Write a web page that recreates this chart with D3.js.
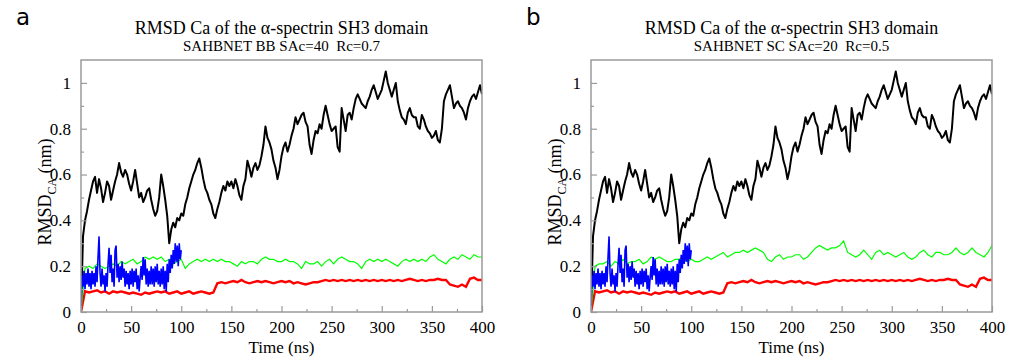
<!DOCTYPE html>
<html>
<head>
<meta charset="utf-8">
<script src="https://cdn.jsdelivr.net/npm/d3@7"></script>
<style>
  body { margin: 0; background: #fff; }
</style>
</head>
<body>
<div id="plot"></div>
<script>
// sampling step (ns) of each trace
const blackStep = 2;
const redStep = 4;
const greenStep = 4;
const blueStep = 1;

// black trace, 0..400 ns (same in both panels)
const blackRmsd = [
  0.00, 0.33, 0.40, 0.44, 0.49, 0.53, 0.57, 0.59, 0.52, 0.58,   // 0-18
  0.54, 0.48, 0.52, 0.57, 0.55, 0.49, 0.53, 0.57, 0.60, 0.65,   // 20-38
  0.61, 0.59, 0.62, 0.60, 0.56, 0.53, 0.57, 0.62, 0.56, 0.50,   // 40-58
  0.52, 0.48, 0.50, 0.53, 0.54, 0.49, 0.45, 0.42, 0.44, 0.50,   // 60-78
  0.60, 0.55, 0.49, 0.42, 0.30, 0.36, 0.39, 0.37, 0.41, 0.40,   // 80-98
  0.43, 0.42, 0.47, 0.50, 0.54, 0.57, 0.60, 0.62, 0.65, 0.67,   // 100-118
  0.63, 0.58, 0.54, 0.52, 0.49, 0.47, 0.43, 0.41, 0.45, 0.48,   // 120-138
  0.52, 0.55, 0.53, 0.57, 0.55, 0.57, 0.54, 0.58, 0.55, 0.51,   // 140-158
  0.49, 0.55, 0.58, 0.66, 0.63, 0.59, 0.63, 0.65, 0.62, 0.64,   // 160-178
  0.68, 0.73, 0.81, 0.76, 0.74, 0.71, 0.66, 0.63, 0.58, 0.62,   // 180-198
  0.68, 0.72, 0.74, 0.70, 0.73, 0.77, 0.80, 0.85, 0.82, 0.84,   // 200-218
  0.86, 0.87, 0.83, 0.81, 0.73, 0.69, 0.75, 0.79, 0.78, 0.82,   // 220-238
  0.80, 0.86, 0.90, 0.86, 0.82, 0.79, 0.80, 0.81, 0.72, 0.70,   // 240-258
  0.89, 0.84, 0.79, 0.86, 0.87, 0.84, 0.89, 0.93, 0.95, 0.93,   // 260-278
  0.91, 0.90, 0.89, 0.92, 0.94, 0.97, 0.99, 0.96, 0.93, 0.95,   // 280-298
  0.97, 1.01, 1.05, 1.00, 0.97, 0.94, 0.97, 1.00, 0.92, 0.88,   // 300-318
  0.85, 0.84, 0.82, 0.87, 0.89, 0.86, 0.85, 0.85, 0.81, 0.80,   // 320-338
  0.86, 0.84, 0.81, 0.79, 0.78, 0.76, 0.77, 0.79, 0.75, 0.74,   // 340-358
  0.80, 0.92, 0.95, 0.97, 0.99, 0.94, 0.89, 0.91, 0.92, 0.90,   // 360-378
  0.89, 0.87, 0.84, 0.89, 0.92, 0.94, 0.95, 0.93, 0.96, 0.99,   // 380-398
  0.95                                                          // 400
];

// red trace, 0..400 ns (same in both panels)
const redRmsd = [
  0.000, 0.090, 0.085, 0.090, 0.095, 0.085, 0.090, 0.080, 0.090, 0.085,   // 0-36
  0.090, 0.085, 0.080, 0.085, 0.080, 0.075, 0.085, 0.080, 0.085, 0.090,   // 40-76
  0.085, 0.090, 0.080, 0.085, 0.090, 0.080, 0.085, 0.090, 0.080, 0.085,   // 80-116
  0.090, 0.085, 0.080, 0.085, 0.125, 0.130, 0.125, 0.130, 0.135, 0.130,   // 120-156
  0.140, 0.130, 0.125, 0.130, 0.135, 0.130, 0.135, 0.130, 0.125, 0.130,   // 160-196
  0.135, 0.130, 0.135, 0.125, 0.130, 0.125, 0.120, 0.125, 0.130, 0.130,   // 200-236
  0.135, 0.140, 0.135, 0.140, 0.135, 0.140, 0.135, 0.140, 0.135, 0.140,   // 240-276
  0.135, 0.140, 0.135, 0.140, 0.135, 0.140, 0.135, 0.140, 0.135, 0.140,   // 280-316
  0.135, 0.140, 0.145, 0.140, 0.135, 0.140, 0.135, 0.140, 0.140, 0.145,   // 320-356
  0.140, 0.140, 0.120, 0.115, 0.110, 0.120, 0.110, 0.145, 0.150, 0.140,   // 360-396
  0.140                                                                   // 400
];

// green trace, panel a (BB SAc=40 Rc=0.7)
const greenRmsdA = [
  0.00, 0.19, 0.20, 0.19, 0.21, 0.20, 0.19, 0.20, 0.21, 0.20,   // 0-36
  0.22, 0.21, 0.22, 0.23, 0.21, 0.22, 0.24, 0.23, 0.24, 0.23,   // 40-76
  0.24, 0.22, 0.23, 0.21, 0.22, 0.23, 0.19, 0.21, 0.22, 0.23,   // 80-116
  0.22, 0.23, 0.22, 0.23, 0.22, 0.23, 0.22, 0.22, 0.21, 0.20,   // 120-156
  0.22, 0.21, 0.22, 0.22, 0.21, 0.23, 0.24, 0.23, 0.23, 0.22,   // 160-196
  0.22, 0.23, 0.22, 0.22, 0.21, 0.19, 0.22, 0.21, 0.21, 0.22,   // 200-236
  0.20, 0.22, 0.23, 0.21, 0.23, 0.24, 0.23, 0.22, 0.22, 0.21,   // 240-276
  0.19, 0.22, 0.23, 0.22, 0.23, 0.22, 0.23, 0.22, 0.21, 0.20,   // 280-316
  0.22, 0.23, 0.22, 0.23, 0.22, 0.23, 0.22, 0.24, 0.25, 0.23,   // 320-356
  0.22, 0.21, 0.23, 0.24, 0.23, 0.25, 0.24, 0.23, 0.25, 0.24,   // 360-396
  0.24                                                          // 400
];

// green trace, panel b (SC SAc=20 Rc=0.5)
const greenRmsdB = [
  0.00, 0.20, 0.21, 0.21, 0.22, 0.20, 0.22, 0.21, 0.23, 0.21,   // 0-36
  0.22, 0.22, 0.23, 0.21, 0.22, 0.24, 0.23, 0.24, 0.23, 0.22,   // 40-76
  0.22, 0.23, 0.23, 0.24, 0.22, 0.23, 0.22, 0.22, 0.23, 0.24,   // 80-116
  0.23, 0.24, 0.25, 0.26, 0.24, 0.25, 0.26, 0.26, 0.27, 0.26,   // 120-156
  0.27, 0.28, 0.27, 0.26, 0.23, 0.22, 0.24, 0.25, 0.23, 0.24,   // 160-196
  0.24, 0.25, 0.25, 0.23, 0.24, 0.26, 0.28, 0.29, 0.28, 0.27,   // 200-236
  0.28, 0.28, 0.29, 0.31, 0.26, 0.25, 0.24, 0.25, 0.27, 0.25,   // 240-276
  0.23, 0.26, 0.27, 0.25, 0.26, 0.25, 0.24, 0.25, 0.26, 0.24,   // 280-316
  0.23, 0.24, 0.26, 0.27, 0.25, 0.24, 0.26, 0.26, 0.25, 0.25,   // 320-356
  0.26, 0.28, 0.26, 0.25, 0.26, 0.28, 0.26, 0.25, 0.24, 0.26,   // 360-396
  0.29                                                          // 400
];

// blue trace, 0..100 ns (same in both panels)
const blueRmsd = [
  0.00,
  0.16, 0.11, 0.18, 0.10, 0.17, 0.12, 0.19, 0.11, 0.17, 0.10,   // 1-10
  0.18, 0.12, 0.17, 0.11, 0.20, 0.13, 0.24, 0.33, 0.17, 0.11,   // 11-20
  0.19, 0.12, 0.16, 0.09, 0.17, 0.11, 0.21, 0.28, 0.17, 0.25,   // 21-30
  0.13, 0.19, 0.11, 0.27, 0.29, 0.15, 0.21, 0.13, 0.20, 0.14,   // 31-40
  0.22, 0.15, 0.19, 0.11, 0.18, 0.12, 0.17, 0.10, 0.18, 0.12,   // 41-50
  0.19, 0.11, 0.18, 0.13, 0.19, 0.10, 0.16, 0.09, 0.15, 0.20,   // 51-60
  0.14, 0.24, 0.16, 0.23, 0.12, 0.19, 0.11, 0.18, 0.12, 0.20,   // 61-70
  0.12, 0.19, 0.11, 0.20, 0.13, 0.21, 0.12, 0.18, 0.11, 0.19,   // 71-80
  0.12, 0.20, 0.10, 0.18, 0.09, 0.21, 0.13, 0.23, 0.17, 0.25,   // 81-90
  0.19, 0.27, 0.21, 0.30, 0.22, 0.29, 0.20, 0.30, 0.23, 0.27    // 91-100
];

const panelLetters = ["a", "b"];
const titles = ["RMSD Ca of the \u03b1-spectrin SH3 domain", "RMSD Ca of the \u03b1-spectrin SH3 domain"];
const subtitles = ["SAHBNET BB SAc=40  Rc=0.7", "SAHBNET SC SAc=20  Rc=0.5"];
const xTicks = [0, 50, 100, 150, 200, 250, 300, 350, 400];
const xMinorTicks = [25, 75, 125, 175, 225, 275, 325, 375];
const yTicks = [0, 0.2, 0.4, 0.6, 0.8, 1];
const yMinorTicks = [0.1, 0.3, 0.5, 0.7, 0.9];

const frameGrey = "#9a9a9a";
const serif = "'Liberation Serif', 'DejaVu Serif', serif";

// chart dimensions
const width = 1024;
const height = 364;
const marginTop = 60;
const plotBottom = 312;
const plotWidth = 401;
const panelLeft = [81, 591];

const y = d3.scaleLinear()
  .domain([0, 1.1])
  .range([plotBottom, marginTop]);

function toPoints(values, step) {
  return values.map((v, i) => [i * step, v]);
}

const svg = d3.create("svg")
  .attr("width", width)
  .attr("height", height)
  .attr("viewBox", [0, 0, width, height])
  .style("font-family", serif);

function panel(k, greenRmsd) {
  const left = panelLeft[k];
  const x = d3.scaleLinear()
    .domain([0, 400])
    .range([left, left + plotWidth]);

  const g = svg.append("g");

  // clip so the traces stay inside the frame
  g.append("clipPath")
    .attr("id", "clip" + k)
    .append("rect")
    .attr("x", left)
    .attr("y", marginTop)
    .attr("width", plotWidth)
    .attr("height", plotBottom - marginTop);

  const line = d3.line((d) => x(d[0]), (d) => y(d[1]));
  const traces = g.append("g").attr("clip-path", `url(#clip${k})`);

  traces.append("path")
    .attr("d", line(toPoints(blackRmsd, blackStep)))
    .attr("fill", "none")
    .attr("stroke", "#000")
    .attr("stroke-width", 2)
    .attr("stroke-linejoin", "round");

  traces.append("path")
    .attr("d", line(toPoints(redRmsd, redStep)))
    .attr("fill", "none")
    .attr("stroke", "#ff0000")
    .attr("stroke-width", 2.4);

  traces.append("path")
    .attr("d", line(toPoints(greenRmsd, greenStep)))
    .attr("fill", "none")
    .attr("stroke", "#00ff00")
    .attr("stroke-width", 1.2);

  traces.append("path")
    .attr("d", line(toPoints(blueRmsd, blueStep)))
    .attr("fill", "none")
    .attr("stroke", "#0000ff")
    .attr("stroke-width", 1.6);

  // frame
  g.append("rect")
    .attr("x", left)
    .attr("y", marginTop)
    .attr("width", plotWidth)
    .attr("height", plotBottom - marginTop)
    .attr("fill", "none")
    .attr("stroke", frameGrey)
    .attr("stroke-width", 1.5);

  // axes, ticks pointing inwards
  const xAxis = g.append("g")
    .attr("transform", `translate(0,${plotBottom})`)
    .call(d3.axisBottom(x).tickValues(xTicks).tickSize(-6).tickPadding(9).tickFormat(d3.format("d")));
  const xMinor = g.append("g")
    .attr("transform", `translate(0,${plotBottom})`)
    .call(d3.axisBottom(x).tickValues(xMinorTicks).tickSize(-3).tickFormat(""));
  const yAxis = g.append("g")
    .attr("transform", `translate(${left},0)`)
    .call(d3.axisLeft(y).tickValues(yTicks).tickSize(-6).tickPadding(10).tickFormat((d) => String(+d.toFixed(1))));
  const yMinor = g.append("g")
    .attr("transform", `translate(${left},0)`)
    .call(d3.axisLeft(y).tickValues(yMinorTicks).tickSize(-3).tickFormat(""));

  for (const a of [xAxis, xMinor, yAxis, yMinor]) {
    a.select(".domain").remove();
    a.selectAll("line").attr("stroke", frameGrey).attr("stroke-width", 1.2);
    a.selectAll("text")
      .attr("fill", "#000")
      .style("font-family", serif)
      .style("font-size", "17px");
  }

  const cx = left + plotWidth / 2;

  // titles
  g.append("text")
    .attr("x", cx)
    .attr("y", 34)
    .attr("text-anchor", "middle")
    .style("font-family", serif)
    .style("font-size", "18px")
    .text(titles[k]);
  g.append("text")
    .attr("x", cx)
    .attr("y", 51)
    .attr("text-anchor", "middle")
    .style("font-family", serif)
    .style("font-size", "15px")
    .style("white-space", "pre")
    .text(subtitles[k]);

  // panel letter
  g.append("text")
    .attr("x", left - 65)
    .attr("y", 25)
    .style("font-family", "'DejaVu Sans', sans-serif")
    .style("font-size", "23px")
    .text(panelLetters[k]);

  // axis labels
  g.append("text")
    .attr("x", cx)
    .attr("y", 353)
    .attr("text-anchor", "middle")
    .style("font-family", serif)
    .style("font-size", "17px")
    .text("Time (ns)");

  const yl = g.append("text")
    .attr("transform", `translate(${left - 30},${(plotBottom + marginTop) / 2 + 6}) rotate(-90)`)
    .attr("text-anchor", "middle")
    .style("font-family", serif)
    .style("font-size", "18px");
  yl.append("tspan").text("RMSD");
  yl.append("tspan").attr("dy", 5).style("font-size", "12px").text("CA");
  yl.append("tspan").attr("dy", -5).text(" (nm)");
}

panel(0, greenRmsdA);
panel(1, greenRmsdB);

document.querySelector("#plot").append(svg.node());
</script>
</body>
</html>
